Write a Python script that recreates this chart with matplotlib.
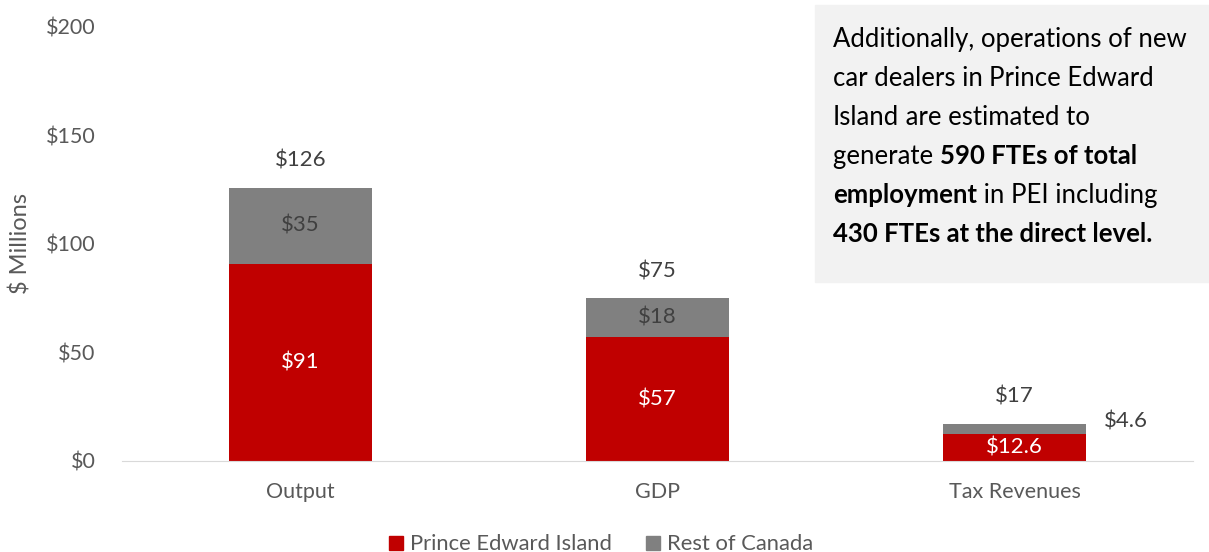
import matplotlib
matplotlib.use('Agg')
import matplotlib.pyplot as plt
from matplotlib.patches import Rectangle
from matplotlib.lines import Line2D
import numpy as np

plt.rcParams['font.family'] = ['Lato', 'DejaVu Sans']

categories = ['Output', 'GDP', 'Tax Revenues']
pei = [91, 57, 12.6]
roc = [35, 18, 4.6]
pei_labels = ['$91', '$57', '$12.6']
roc_labels = ['$35', '$18', '$4.6']
total_labels = ['$126', '$75', '$17']
yticks = [0, 50, 100, 150, 200]

red = '#c00000'
grey = '#808080'
txt = '#595959'

fig = plt.figure(figsize=(12.09, 5.52), dpi=100)
ax = fig.add_axes([0.101, 0.1649, 0.886, 0.7862])

x = np.arange(len(categories))
w = 0.4
ax.bar(x, pei, w, color=red)
ax.bar(x, roc, w, bottom=pei, color=grey)

lab_fs = 16
for i in range(len(categories)):
    ax.text(x[i], pei[i] / 2, pei_labels[i], ha='center', va='center', color='white', fontsize=lab_fs)
    tot = pei[i] + roc[i]
    if i < 2:
        ax.text(x[i], pei[i] + roc[i] / 2, roc_labels[i], ha='center', va='center', color='#404040', fontsize=lab_fs)
    else:
        ax.text(x[i] + 0.31, 18.4, roc_labels[i], ha='center', va='center', color='#404040', fontsize=lab_fs)
    ax.text(x[i], tot + 12.5, total_labels[i], ha='center', va='center', color='#404040', fontsize=lab_fs)

ax.set_xlim(-0.5, 2.5)
ax.set_ylim(0, 200)
ax.set_yticks(yticks)
ax.set_yticklabels(['$%d' % v for v in yticks])
ax.set_xticks(x)
ax.set_xticklabels(categories)
ax.tick_params(axis='both', length=0, labelsize=15.5, colors=txt)
ax.tick_params(axis='y', pad=19)
ax.tick_params(axis='x', pad=15)
for s in ['top', 'right', 'left']:
    ax.spines[s].set_visible(False)
ax.spines['bottom'].set_color('#d9d9d9')
ax.set_ylabel('$ Millions', fontsize=17, color=txt)
ax.yaxis.set_label_coords(-0.085, 0.5)

handles = [Line2D([], [], marker='s', ls='', color=red, markersize=9.5),
           Line2D([], [], marker='s', ls='', color=grey, markersize=9.5)]
fig.legend(handles, ['Prince Edward Island', 'Rest of Canada'], loc='lower center',
           bbox_to_anchor=(0.497, -0.04), ncol=2, frameon=False, fontsize=15.8,
           handlelength=0.7, handletextpad=0.3, columnspacing=1.5, labelcolor=txt)

# annotation box
fig.patches.append(Rectangle((815 / 1209, 1 - 282 / 552), 394 / 1209, 277 / 552,
                             transform=fig.transFigure, color='#f2f2f2', zorder=0))
box_lines = [
    [('Additionally, operations of new', 'normal')],
    [('car dealers in ', 'normal'), ('Prince Edward', 'normal')],
    [('Island', 'normal'), (' are estimated to', 'normal')],
    [('generate ', 'normal'), ('590 FTEs of total', 'bold')],
    [('employment', 'bold'), (' in PEI including', 'normal')],
    [('430 FTEs at the direct level.', 'bold')],
]
fig.canvas.draw()
r = fig.canvas.get_renderer()
for i, line in enumerate(box_lines):
    xp = 833
    yp = 1 - (47 + i * 39) / 552
    for s, wt in line:
        t = fig.text(xp / 1209, yp, s, fontsize=18.5, fontweight=wt, va='baseline', ha='left', color='black')
        bb = t.get_window_extent(r)
        xp = bb.x1

fig.savefig('out.png', dpi=100)
